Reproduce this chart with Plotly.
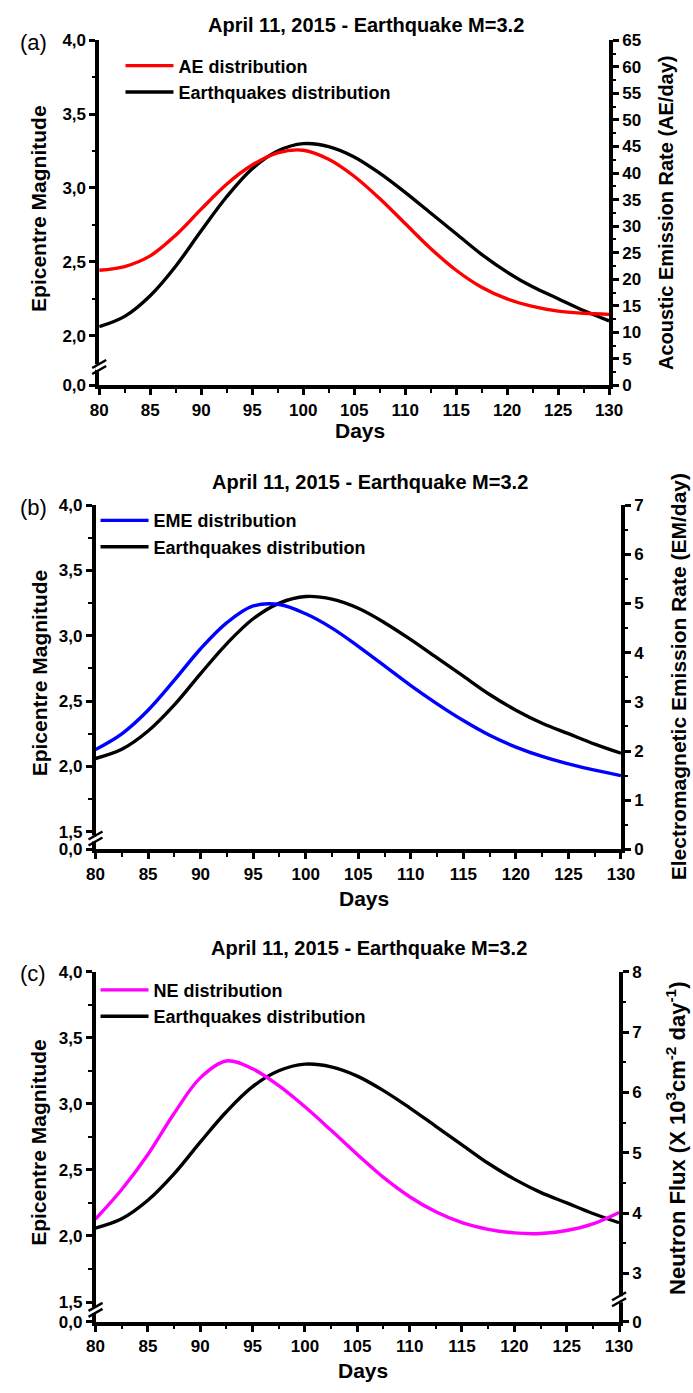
import plotly.graph_objects as go

# ---------------- data ----------------
days = [80, 82.5, 85, 87.5, 90, 92.5, 95, 97.5, 100, 102.5, 105, 107.5,
        110, 112.5, 115, 117.5, 120, 122.5, 125, 127.5, 130]

# Earthquakes distribution (epicentre magnitude)
quake_mag = [2.06, 2.13, 2.27, 2.47, 2.71, 2.94, 3.13, 3.25, 3.30, 3.28, 3.21, 3.10,
             2.97, 2.83, 2.69, 2.55, 2.43, 2.33, 2.25, 2.17, 2.10]

# AE distribution (AE/day)
ae_rate = [21.7, 22.4, 24.4, 28.3, 33.2, 37.9, 41.5, 43.8, 44.3, 42.6, 39.4, 35.2,
           30.5, 25.8, 21.7, 18.5, 16.3, 14.9, 14.0, 13.6, 13.4]

# EME distribution (EM/day)
eme_rate = [2.03, 2.35, 2.83, 3.44, 4.08, 4.61, 4.95, 4.98, 4.79, 4.50, 4.13, 3.73,
            3.33, 2.96, 2.62, 2.32, 2.08, 1.89, 1.74, 1.61, 1.50]

# NE distribution (neutron flux, x10^3 cm^-2 day^-1)
ne_flux = [3.90, 4.39, 4.97, 5.65, 6.24, 6.52, 6.39, 6.11, 5.76, 5.37, 4.97, 4.59,
           4.27, 4.02, 3.84, 3.73, 3.67, 3.66, 3.71, 3.82, 4.01]

title_text = "April 11, 2015 - Earthquake M=3.2"
panel_tags = ["(a)", "(b)", "(c)"]
series_names = ["AE distribution", "EME distribution", "NE distribution"]
series_colors = ["#ff0000", "#0000ff", "#ff00ff"]
right_titles = ["Acoustic Emission Rate (AE/day)",
                "Electromagnetic Emission Rate (EM/day)",
                "Neutron Flux (X 10<sup>3</sup>cm<sup>-2</sup> day<sup>-1</sup>)"]

# left-axis tick labels (with broken axis: bottom value labelled 0,0)
left_ticks_a = [2.0, 2.5, 3.0, 3.5, 4.0]
left_ticks_bc = [1.5, 2.0, 2.5, 3.0, 3.5, 4.0]

# ---------------- layout geometry (pixels) ----------------
W, H = 693, 1393
FONT = "Liberation Sans, Arial, sans-serif"

panels = [
    dict(l=93.3, r=620.7, t=31.7, b=381.7, lmin=1.662, rrange=[0, 65], rdt=5, rminor=2.5,
         lticks=left_ticks_a, lbreak=1.787, rbreak=None, rzero=None,
         days_y=427, title_y=16, tag_y=34, leg_y=39, leg_dx=22,
         rt_size=20, rt_dy=0),
    dict(l=89.5, r=633.0, t=503.0, b=852.0, lmin=1.364, rrange=[0, 7], rdt=1, rminor=0.5,
         lticks=left_ticks_bc, lbreak=1.447, rbreak=None, rzero=None,
         days_y=902, title_y=480, tag_y=505, leg_y=500, leg_dx=0,
         rt_size=21, rt_dy=0),
    dict(l=89.5, r=631.0, t=976.0, b=1331.0, lmin=1.35, rrange=[2.196, 8], rdt=1, rminor=0.5,
         lticks=left_ticks_bc, lbreak=1.44, rbreak=2.57, rzero=2.196,
         days_y=1380, title_y=952, tag_y=978, leg_y=976, leg_dx=0,
         rt_size=22, rt_dy=-8),
]
rates = [ae_rate, eme_rate, ne_flux]


def fx(p):
    return p / W


def fy(p):
    return 1 - p / H


fig = go.Figure()
layout = dict(width=W, height=H, autosize=False,
              margin=dict(l=0, r=0, t=0, b=0),
              paper_bgcolor="white", plot_bgcolor="white",
              font=dict(family=FONT, color="black"),
              showlegend=True)
annotations = []
shapes = []

tickfont = dict(family=FONT, size=17, color="black", weight="bold")


def add_break(xpos, yref, yval):
    shapes.append(dict(type="rect", xref="paper", yref=yref, layer="above",
                       xsizemode="pixel", ysizemode="pixel", xanchor=xpos, yanchor=yval,
                       x0=-4, x1=4, y0=-3, y1=3, fillcolor="white",
                       line=dict(width=0)))
    for dy in (-3, 3):
        shapes.append(dict(type="line", xref="paper", yref=yref, layer="above",
                           xsizemode="pixel", ysizemode="pixel", xanchor=xpos, yanchor=yval,
                           x0=-7, x1=7, y0=dy - 4, y1=dy + 4,
                           line=dict(color="black", width=2.5)))


for i, p in enumerate(panels):
    xa = "x" if i == 0 else f"x{i + 1}"
    yl = "y" if i == 0 else f"y{2 * i + 1}"
    yr = f"y{2 * i + 2}"
    leg = "legend" if i == 0 else f"legend{i + 1}"

    fig.add_trace(go.Scatter(x=days, y=rates[i], xaxis=xa, yaxis=yr, mode="lines",
                             line=dict(color=series_colors[i], width=3.4, shape="spline"),
                             name=series_names[i], legend=leg))
    fig.add_trace(go.Scatter(x=days, y=quake_mag, xaxis=xa, yaxis=yl, mode="lines",
                             line=dict(color="black", width=3.4, shape="spline"),
                             name="Earthquakes distribution", legend=leg))

    xk = "xaxis" if i == 0 else f"xaxis{i + 1}"
    ylk = "yaxis" if i == 0 else f"yaxis{2 * i + 1}"
    yrk = f"yaxis{2 * i + 2}"

    layout[xk] = dict(domain=[fx(p["l"]), fx(p["r"])], anchor=yl, range=[80, 130],
                      tickmode="linear", tick0=80, dtick=5, ticks="outside",
                      ticklen=6, tickwidth=2.5, tickcolor="black",
                      minor=dict(tickmode="linear", tick0=80, dtick=2.5, ticks="outside",
                                 ticklen=3.5, tickwidth=2, tickcolor="black"),
                      showline=True, linewidth=3.5, linecolor="black",
                      showgrid=False, zeroline=False, tickfont=tickfont)

    lvals = [p["lmin"]] + p["lticks"]
    ltext = ["0,0"] + [f"{v:.1f}".replace(".", ",") for v in p["lticks"]]
    lminor = [v + 0.25 for v in p["lticks"][:-1]]
    layout[ylk] = dict(domain=[fy(p["b"]), fy(p["t"])], anchor=xa, range=[p["lmin"], 4.0],
                       tickmode="array", tickvals=lvals, ticktext=ltext,
                       ticks="outside", ticklen=6, tickwidth=2.5, tickcolor="black",
                       minor=dict(tickmode="array", tickvals=lminor, ticks="outside",
                                  ticklen=3.5, tickwidth=2, tickcolor="black"),
                       showline=True, linewidth=3.5, linecolor="black",
                       showgrid=False, zeroline=False, tickfont=tickfont)

    if p["rzero"] is None:
        rvals = list(range(int(p["rrange"][0]), int(p["rrange"][1]) + 1, p["rdt"]))
        rtext = [str(v) for v in rvals]
        rminor = [v + p["rminor"] for v in rvals[:-1]]
    else:
        rvals = [p["rzero"]] + list(range(3, 9))
        rtext = ["0"] + [str(v) for v in range(3, 9)]
        rminor = [v + 0.5 for v in range(3, 8)]
    layout[yrk] = dict(overlaying=yl, side="right", anchor=xa, range=p["rrange"],
                       tickmode="array", tickvals=rvals, ticktext=rtext,
                       ticks="outside", ticklen=6, tickwidth=2.5, tickcolor="black",
                       minor=dict(tickmode="array", tickvals=rminor, ticks="outside",
                                  ticklen=3.5, tickwidth=2, tickcolor="black"),
                       showline=True, linewidth=3.5, linecolor="black",
                       showgrid=False, zeroline=False, tickfont=tickfont)

    layout[leg] = dict(x=fx(p["l"] + p["leg_dx"]), y=fy(p["leg_y"]), xanchor="left",
                       yanchor="top", bgcolor="rgba(0,0,0,0)", borderwidth=0,
                       itemwidth=48,
                       font=dict(family=FONT, size=18, color="black", weight="bold"),
                       tracegroupgap=0)

    # titles / labels
    annotations.append(dict(text=title_text, xref="paper", yref="paper",
                            x=fx((p["l"] + p["r"]) / 2 + 12), y=fy(p["title_y"]),
                            showarrow=False, xanchor="center", yanchor="middle",
                            font=dict(family=FONT, size=20, weight="bold")))
    annotations.append(dict(text=panel_tags[i], xref="paper", yref="paper",
                            x=fx(25), y=fy(p["tag_y"]), showarrow=False,
                            xanchor="center", yanchor="middle",
                            font=dict(family=FONT, size=22)))
    annotations.append(dict(text="Days", xref="paper", yref="paper",
                            x=fx((p["l"] + p["r"]) / 2 + 6), y=fy(p["days_y"]),
                            showarrow=False, xanchor="center", yanchor="middle",
                            font=dict(family=FONT, size=21, weight="bold")))
    annotations.append(dict(text="Epicentre Magnitude", xref="paper", yref="paper",
                            x=fx(31), y=fy((p["t"] + p["b"]) / 2 - 5), textangle=-90,
                            showarrow=False, xanchor="center", yanchor="middle",
                            font=dict(family=FONT, size=21, weight="bold")))
    annotations.append(dict(text=right_titles[i], xref="paper", yref="paper",
                            x=fx(p["r"] + 59), y=fy((p["t"] + p["b"]) / 2 + p["rt_dy"]),
                            textangle=-90,
                            showarrow=False, xanchor="center", yanchor="middle",
                            font=dict(family=FONT, size=p["rt_size"], weight="bold")))

    add_break(fx(p["l"]), yl, p["lbreak"])
    if p["rbreak"] is not None:
        add_break(fx(p["r"]), yr, p["rbreak"])

layout["annotations"] = annotations
layout["shapes"] = shapes
fig.update_layout(**layout)

fig.write_html("out.html")
